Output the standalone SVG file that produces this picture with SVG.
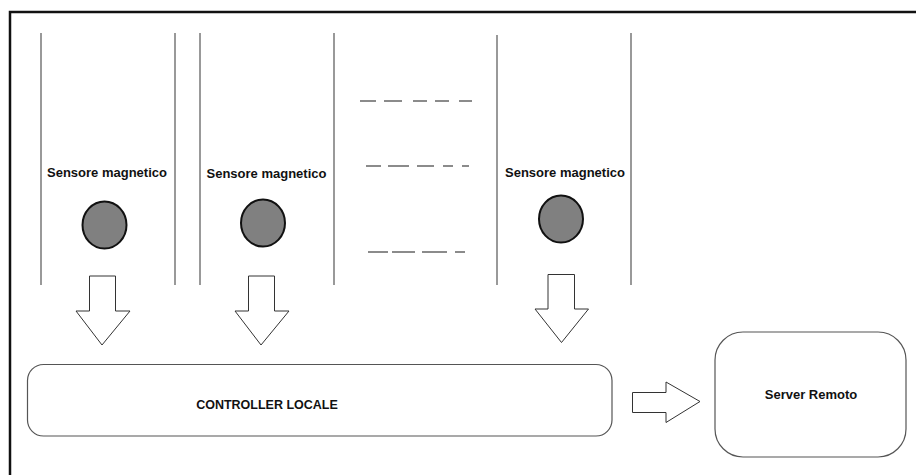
<svg xmlns="http://www.w3.org/2000/svg" width="916" height="475" viewBox="0 0 916 475">
  <style>
    .frame { stroke: #111; stroke-width: 2.5; fill: none; }
    .rail { stroke: #777; stroke-width: 1.5; }
    .dash { stroke: #666; stroke-width: 1.3; }
    .magnet { fill: #808080; stroke: #111; stroke-width: 2; }
    .box { fill: #fff; stroke: #555; stroke-width: 1.2; }
    .flow { fill: #fff; stroke: #333; stroke-width: 1; }
    .label { font-family: "Liberation Sans", Arial, sans-serif; font-weight: bold; fill: #111; text-anchor: middle; }
  </style>

  <rect width="916" height="475" fill="#fff"/>

  <!-- outer frame: top and left edges -->
  <path class="frame" d="M10 475 V12 H916"/>

  <!-- sensor 1 -->
  <g id="sensor1">
    <line class="rail" x1="41" y1="33" x2="41" y2="285"/>
    <line class="rail" x1="175" y1="33" x2="175" y2="285"/>
    <text class="label" x="107" y="177" font-size="13">Sensore magnetico</text>
    <ellipse class="magnet" cx="104.5" cy="225" rx="22" ry="23.5"/>
  </g>

  <!-- sensor 2 -->
  <g id="sensor2">
    <line class="rail" x1="200" y1="33" x2="200" y2="285"/>
    <line class="rail" x1="334" y1="33" x2="334" y2="285"/>
    <text class="label" x="266.5" y="178" font-size="13">Sensore magnetico</text>
    <ellipse class="magnet" cx="263" cy="223" rx="22" ry="23.5"/>
  </g>

  <!-- ellipsis between sensors -->
  <g id="more-sensors">
    <path class="dash" d="M360 101H376M384 101H402M413 101H427M435 101H449M459 101H472"/>
    <path class="dash" d="M366 166H381M388 166H409M417 166H434M443 166H453M462 166H469"/>
    <path class="dash" d="M368 252H388M392 252H415M422 252H447M455 252H465"/>
  </g>

  <!-- sensor N -->
  <g id="sensorN">
    <line class="rail" x1="497" y1="35" x2="497" y2="285"/>
    <line class="rail" x1="631" y1="33" x2="631" y2="285"/>
    <text class="label" x="565" y="177" font-size="13">Sensore magnetico</text>
    <ellipse class="magnet" cx="561" cy="219" rx="22" ry="23.5"/>
  </g>

  <!-- local controller -->
  <g id="controller">
    <rect class="box" x="27.5" y="364.5" width="584.5" height="71.5" rx="16" ry="16"/>
    <text class="label" x="267" y="408.5" font-size="12.5">CONTROLLER LOCALE</text>
  </g>

  <!-- remote server -->
  <g id="server">
    <rect class="box" x="715" y="332" width="191" height="125" rx="28" ry="28"/>
    <text class="label" x="811" y="398.5" font-size="13">Server Remoto</text>
  </g>

  <!-- block arrows -->
  <g id="connectors">
    <polygon class="flow" points="89.5,276 115.5,276 115.5,311 130,311 102,345 76,311 89.5,311"/>
    <polygon class="flow" points="248.5,276 274.5,276 274.5,311 289,311 261,345 235,311 248.5,311"/>
    <polygon class="flow" points="548,274.5 574.5,274.5 574.5,309 588.5,309 561.5,342.5 535,309 548,309"/>
    <polygon class="flow" points="632.5,392.5 666,392.5 666,382 700,401.5 666,422.5 666,412.5 632.5,412.5"/>
  </g>
</svg>
